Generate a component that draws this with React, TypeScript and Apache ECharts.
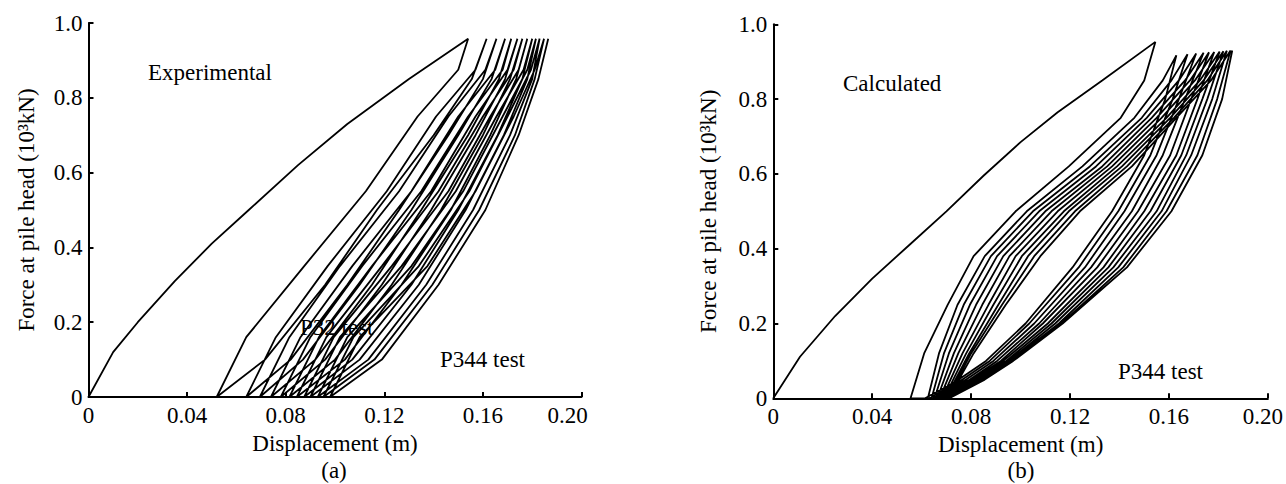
import React, { useEffect, useRef } from "react";
import * as echarts from "echarts";

const FONT = "Liberation Serif";
const FS = 23;

// ---------- Panel (a): Experimental ----------
const A_VIRGIN_D = [0, 0.01, 0.02, 0.035, 0.05, 0.065, 0.085, 0.105, 0.13, 0.154];
const A_VIRGIN_F = [0, 0.12, 0.2, 0.31, 0.41, 0.5, 0.62, 0.73, 0.85, 0.958];
const A_PEAK_F = [0.958, 0.958, 0.958, 0.958, 0.958, 0.958, 0.958, 0.958, 0.958, 0.958, 0.958, 0.958, 0.958];
// unloading branches: d at F = peak, 0.875, 0.75, 0.55, 0.35, 0.16, 0
const A_UL_F = [0.875, 0.75, 0.55, 0.35, 0.16];
const A_UL_D = [
  [0.154, 0.15, 0.1335, 0.1125, 0.0875, 0.064, 0.052],
  [0.1615, 0.157, 0.141, 0.121, 0.097, 0.076, 0.064],
  [0.1655, 0.161, 0.146, 0.126, 0.102, 0.0815, 0.0695],
  [0.169, 0.165, 0.15, 0.131, 0.107, 0.086, 0.074],
  [0.1715, 0.168, 0.154, 0.135, 0.111, 0.09, 0.078],
  [0.174, 0.17, 0.157, 0.139, 0.115, 0.0935, 0.0815],
  [0.176, 0.1725, 0.16, 0.142, 0.119, 0.0965, 0.0845],
  [0.178, 0.1745, 0.163, 0.146, 0.123, 0.0995, 0.0875],
  [0.18, 0.1765, 0.1655, 0.149, 0.127, 0.102, 0.09],
  [0.1815, 0.178, 0.168, 0.152, 0.131, 0.105, 0.093],
  [0.183, 0.1795, 0.17, 0.1545, 0.134, 0.1075, 0.0953],
  [0.1848, 0.181, 0.1725, 0.157, 0.1375, 0.11, 0.098],
];
// reloading branches: d at F = 0, 0.1, 0.3, 0.5, 0.7, 0.85, next peak
const A_LR_F = [0.1, 0.3, 0.5, 0.7, 0.85];
const A_LR_D = [
  [0.052, 0.0716, 0.096, 0.117, 0.14, 0.1555, 0.1615],
  [0.064, 0.082, 0.105, 0.126, 0.146, 0.16, 0.1655],
  [0.0695, 0.087, 0.11, 0.131, 0.15, 0.1635, 0.169],
  [0.074, 0.092, 0.115, 0.135, 0.154, 0.1665, 0.1715],
  [0.078, 0.096, 0.119, 0.139, 0.157, 0.169, 0.174],
  [0.0815, 0.1, 0.123, 0.143, 0.16, 0.171, 0.176],
  [0.0845, 0.104, 0.127, 0.147, 0.163, 0.1735, 0.178],
  [0.0875, 0.107, 0.131, 0.15, 0.166, 0.176, 0.18],
  [0.09, 0.11, 0.134, 0.153, 0.1685, 0.178, 0.1815],
  [0.093, 0.1135, 0.137, 0.156, 0.171, 0.18, 0.183],
  [0.0953, 0.116, 0.1395, 0.1585, 0.173, 0.181, 0.1848],
  [0.098, 0.119, 0.142, 0.161, 0.1745, 0.1825, 0.1865],
];

// ---------- Panel (b): Calculated ----------
const B_VIRGIN_D = [0, 0.0108, 0.025, 0.04, 0.055, 0.07, 0.085, 0.1, 0.115, 0.133, 0.1545];
const B_VIRGIN_F = [0, 0.111, 0.22, 0.32, 0.41, 0.5, 0.595, 0.685, 0.765, 0.85, 0.953];
const B_PEAK_F = [0.953, 0.917, 0.92, 0.922, 0.924, 0.925, 0.926, 0.927, 0.928, 0.929, 0.93, 0.93];
// unloading: d at F = peak, 0.85, 0.75, 0.62, 0.5, 0.38, 0.25, 0.12, 0
const B_UL_F = [0.85, 0.75, 0.62, 0.5, 0.38, 0.25, 0.12];
const B_UL_D = [
  [0.1545, 0.15, 0.1405, 0.1195, 0.098, 0.081, 0.0705, 0.061, 0.0555],
  [0.163, 0.1575, 0.146, 0.125, 0.1025, 0.0855, 0.0745, 0.067, 0.0625],
  [0.1675, 0.161, 0.149, 0.128, 0.105, 0.088, 0.077, 0.069, 0.064],
  [0.171, 0.164, 0.151, 0.1305, 0.1075, 0.0905, 0.0795, 0.071, 0.0652],
  [0.174, 0.1665, 0.153, 0.133, 0.11, 0.093, 0.082, 0.073, 0.0663],
  [0.1762, 0.1685, 0.155, 0.135, 0.1125, 0.0955, 0.0845, 0.0748, 0.0673],
  [0.1783, 0.1705, 0.157, 0.137, 0.115, 0.098, 0.087, 0.0765, 0.0682],
  [0.1805, 0.1725, 0.159, 0.139, 0.1175, 0.1005, 0.089, 0.078, 0.069],
  [0.182, 0.174, 0.1605, 0.141, 0.1195, 0.103, 0.091, 0.0792, 0.0697],
  [0.1834, 0.1755, 0.162, 0.143, 0.122, 0.1055, 0.0925, 0.08, 0.0703],
  [0.1849, 0.177, 0.163, 0.145, 0.124, 0.108, 0.094, 0.081, 0.0708],
];
// reloading: d at F = 0, 0.05, 0.1, 0.2, 0.35, 0.5, 0.65, 0.8, next peak
const B_LR_F = [0.05, 0.1, 0.2, 0.35, 0.5, 0.65, 0.8];
const B_LR_D = [
  [0.0614, 0.075, 0.086, 0.102, 0.121, 0.137, 0.15, 0.1585, 0.163],
  [0.063, 0.0765, 0.0875, 0.1035, 0.1235, 0.1395, 0.1525, 0.1615, 0.1675],
  [0.0645, 0.078, 0.089, 0.1055, 0.126, 0.142, 0.155, 0.164, 0.171],
  [0.0657, 0.0795, 0.0905, 0.1075, 0.1285, 0.145, 0.1575, 0.1665, 0.174],
  [0.0668, 0.0805, 0.092, 0.109, 0.131, 0.1475, 0.1605, 0.169, 0.1762],
  [0.0678, 0.0815, 0.093, 0.111, 0.1335, 0.15, 0.163, 0.1715, 0.1783],
  [0.0687, 0.0825, 0.0942, 0.1125, 0.1355, 0.1525, 0.165, 0.1735, 0.1805],
  [0.0695, 0.0835, 0.0952, 0.114, 0.1375, 0.155, 0.167, 0.1755, 0.182],
  [0.0702, 0.0842, 0.096, 0.1155, 0.1395, 0.157, 0.169, 0.1775, 0.1834],
  [0.0708, 0.085, 0.0965, 0.1165, 0.1415, 0.159, 0.1715, 0.1795, 0.1849],
  [0.0712, 0.0855, 0.097, 0.117, 0.143, 0.161, 0.1735, 0.1815, 0.1856],
];

function buildPath(
  vD: number[], vF: number[], peakF: number[],
  ulF: number[], ulD: number[][], lrF: number[], lrD: number[][]
) {
  const pts: number[][] = vD.map((d, i) => [d, vF[i]]);
  for (let i = 0; i < ulD.length; i++) {
    const fu = [peakF[i], ...ulF, 0];
    for (let k = 1; k < ulD[i].length; k++) pts.push([ulD[i][k], fu[k]]);
    const fr = [0, ...lrF, peakF[i + 1]];
    for (let k = 0; k < lrD[i].length; k++) pts.push([lrD[i][k], fr[k]]);
  }
  return pts;
}

const txt = { fontFamily: FONT, fontSize: FS, color: "#000" };

function xAxis(gridIndex: number, lastPad: number) {
  return {
    type: "value", gridIndex, min: 0, max: 0.2, interval: 0.04,
    name: "Displacement (m)", nameLocation: "middle", nameGap: 33,
    nameTextStyle: { ...txt, lineHeight: 22 },
    axisLine: { lineStyle: { color: "#000", width: 2 } },
    axisTick: { inside: true, length: 5, lineStyle: { color: "#000", width: 2 } },
    axisLabel: {
      ...txt, margin: 7,
      formatter: (v: number) => (v === 0 ? "0" : v > 0.19 ? "{e|" + v.toFixed(2) + "}" : v.toFixed(2)),
      rich: { e: { ...txt, padding: [0, lastPad, 0, 0] } },
    },
    splitLine: { show: false },
  };
}
function yAxis(gridIndex: number, nameGap: number) {
  return {
    type: "value", gridIndex, min: 0, max: 1, interval: 0.2,
    name: "Force at pile head (10³kN)", nameLocation: "middle", nameGap,
    nameRotate: 90, nameTextStyle: { ...txt },
    axisLine: { lineStyle: { color: "#000", width: 2 } },
    axisTick: { inside: true, length: 5, lineStyle: { color: "#000", width: 2 } },
    axisLabel: { ...txt, margin: 6, formatter: (v: number) => (v === 0 ? "0" : v.toFixed(1)) },
    splitLine: { show: false },
  };
}

function label(text: string, x: number, y: number, align = "left") {
  return {
    type: "text", x, y, z: 0,
    style: {
      text, fontFamily: FONT, fontSize: FS, fill: "#000",
      align, verticalAlign: "middle", textAlign: align, textVerticalAlign: "middle",
    },
  };
}

export default function App() {
  const ref = useRef<HTMLDivElement>(null);
  useEffect(() => {
    document.body.style.margin = "0";
    if (!ref.current) return;
    const chart = echarts.init(ref.current, undefined, { renderer: "svg" });
    const pathA = buildPath(A_VIRGIN_D, A_VIRGIN_F, A_PEAK_F, A_UL_F, A_UL_D, A_LR_F, A_LR_D);
    const pathB = buildPath(B_VIRGIN_D, B_VIRGIN_F, B_PEAK_F, B_UL_F, B_UL_D, B_LR_F, B_LR_D);
    chart.setOption({
      animation: false,
      backgroundColor: "#fff",
      grid: [
        { left: 88.5, top: 23, width: 493, height: 374 },
        { left: 773.3, top: 24.3, width: 495.4, height: 374 },
      ],
      xAxis: [xAxis(0, 28), xAxis(1, 10)],
      yAxis: [yAxis(0, 51), yAxis(1, 53)],
      series: [
        {
          type: "line", xAxisIndex: 0, yAxisIndex: 0, data: pathA, showSymbol: false, z: 5,
          lineStyle: { color: "#000", width: 1.8 }, silent: true,
        },
        {
          type: "line", xAxisIndex: 1, yAxisIndex: 1, data: pathB, showSymbol: false, z: 5,
          lineStyle: { color: "#000", width: 1.8 }, silent: true,
        },
      ],
      graphic: [
        label("Experimental", 148, 72),
        label("P32 test", 300, 327),
        label("P344 test", 440, 359),
        label("(a)", 334, 470, "center"),
        label("Calculated", 843, 83),
        label("P344 test", 1118, 371),
        label("(b)", 1021, 470, "center"),
      ],
    });
    return () => chart.dispose();
  }, []);
  return <div ref={ref} style={{ width: 1286, height: 484 }} />;
}
